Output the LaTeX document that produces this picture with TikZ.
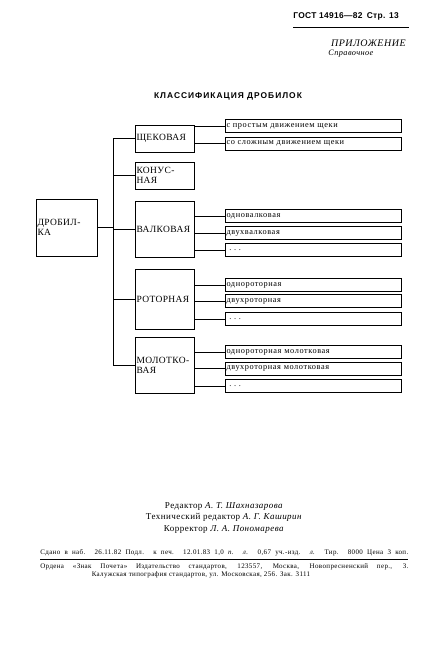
\documentclass[tikz,border=0pt]{standalone}
\usepackage{fontspec}
\setmainfont{Liberation Serif}
\newfontfamily\boxfont[LetterSpace=4]{Liberation Serif}
\newfontfamily\leaffont[LetterSpace=7]{Liberation Serif}
\newfontfamily\headfont[LetterSpace=12]{Liberation Sans}
\newfontfamily\gostfont[LetterSpace=4]{Liberation Sans}
\newfontfamily\footfont[LetterSpace=5]{Liberation Serif}
\begin{document}
\begin{tikzpicture}[x=1pt, y=-1pt, line width=0.7pt,
		main/.style = {draw, inner sep=1.5pt, text width=56pt, align=left,
			font=\boxfont\fontsize{9.5}{10}\selectfont},
		leaf/.style = {draw, inner sep=1.5pt, text width=173pt, minimum height=13pt,
			align=left, font=\leaffont\fontsize{8.3}{9}\selectfont}]

		\useasboundingbox (0,0) rectangle (431,645);

		% header
		\node[anchor=west, inner sep=0pt, font=\gostfont\bfseries\fontsize{8.4}{9}\selectfont] (gost) at (293,16) {ГОСТ 14916—82\enspace Стр. 13};
		\draw[line width=1pt] (293,27) -- (409,27);
		\node[anchor=east, inner sep=0pt, font=\footfont\itshape\fontsize{10}{11}\selectfont] (appx) at (406,43) {ПРИЛОЖЕНИЕ};
		\node[anchor=west, inner sep=0pt, font=\footfont\itshape\fontsize{8.3}{9}\selectfont] (ref) at (328,54) {Справочное};
		\node[inner sep=0pt, font=\headfont\bfseries\fontsize{8.4}{9}\selectfont] (title) at (228,96) {КЛАССИФИКАЦИЯ ДРОБИЛОК};

		% tree
		\node[main, text width=58pt, minimum height=57pt] (root) at (66.5,227.5) {ДРОБИЛ-\\КА};
		\node[main, minimum height=27pt] (schek) at (164.5,138.5) {ЩЕКОВАЯ};
		\node[main, minimum height=27pt] (konus) at (164.5,175.5) {КОНУС-\\НАЯ};
		\node[main, minimum height=56pt] (valk) at (164.5,229) {ВАЛКОВАЯ};
		\node[main, minimum height=60pt] (rotor) at (164.5,299) {РОТОРНАЯ};
		\node[main, minimum height=56pt] (molot) at (164.5,365) {МОЛОТКО-\\ВАЯ};

		\node[leaf] (sc1) at (313,126) {с простым движением щеки};
		\node[leaf] (sc2) at (313,143.5) {со сложным движением щеки};
		\node[leaf] (va1) at (313,216) {одновалковая};
		\node[leaf] (va2) at (313,233) {двухвалковая};
		\node[leaf] (va3) at (313,250) {\ .\ .\ .};
		\node[leaf] (ro1) at (313,285) {однороторная};
		\node[leaf] (ro2) at (313,301) {двухроторная};
		\node[leaf] (ro3) at (313,319) {\ .\ .\ .};
		\node[leaf] (mo1) at (313,352) {однороторная молотковая};
		\node[leaf] (mo2) at (313,368.5) {двухроторная молотковая};
		\node[leaf] (mo3) at (313,386) {\ .\ .\ .};

		\coordinate (bus) at (113,227.5);
		\draw (root.east) -- (bus);
		\draw (schek.west) -- (schek.west -| bus) -- (molot.west -| bus) -- (molot.west);
		\foreach \n in {konus,valk,rotor}
			\draw (\n.west -| bus) -- (\n.west);
		\foreach \p/\c in {schek/sc1,schek/sc2,valk/va1,valk/va2,valk/va3,rotor/ro1,rotor/ro2,rotor/ro3,molot/mo1,molot/mo2,molot/mo3}
			\draw (\c.west -| \p.east) -- (\c.west);

		% imprint
		\node[align=center, inner sep=0pt, font=\footfont\fontsize{9}{11.5}\selectfont] (staff) at (224,517.5)
			{Редактор \textit{А. Т. Шахназарова}\\Технический редактор \textit{А. Г. Каширин}\\Корректор \textit{Л. А. Пономарева}};
		\node[anchor=west, inner sep=0pt, font=\footfont\fontsize{7}{8}\selectfont] (given) at (40,553)
			{\makebox[368pt][s]{Сдано в наб. 26.11.82 Подл. к печ. 12.01.83 1,0 \textit{п. л.} 0,67 уч.-изд. \textit{л.} Тир. 8000 Цена 3 коп.}};
		\draw (40,559) -- (408,559);
		\node[anchor=west, inner sep=0pt, font=\footfont\fontsize{7}{8}\selectfont] (publ) at (40,567)
			{\makebox[368pt][s]{Ордена «Знак Почета» Издательство стандартов, 123557, Москва, Новопресненский пер., 3.}};
		\node[inner sep=0pt, font=\footfont\fontsize{7}{8}\selectfont] (print) at (201,575)
			{Калужская типография стандартов, ул. Московская, 256. Зак. 3111};
	\end{tikzpicture}
\end{document}
